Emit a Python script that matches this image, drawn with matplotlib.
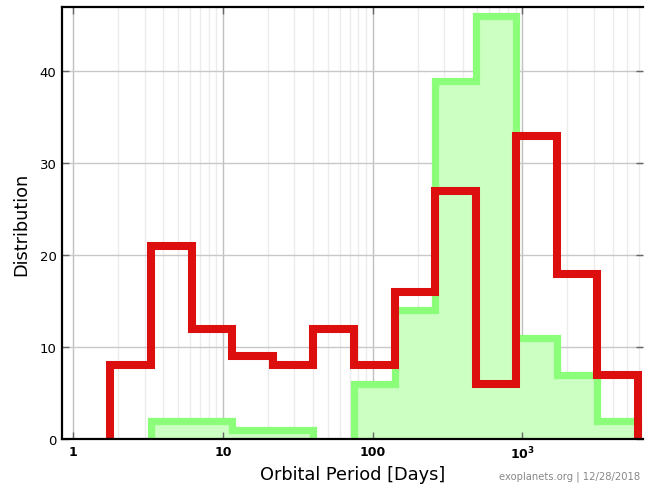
import numpy as np
import matplotlib
matplotlib.use("Agg")
import matplotlib.pyplot as plt
from matplotlib.ticker import FixedLocator, NullFormatter

# bin edges in days (log spaced)
bin_edges = [1.77, 3.30, 6.16, 11.5, 21.5, 40.1, 74.9, 140, 261, 487, 910, 1700, 3170, 5920]
red_counts = [8, 21, 12, 9, 8, 12, 8, 16, 27, 6, 33, 18, 7]
green_counts = [0, 2, 2, 1, 1, 0, 6, 14, 39, 46, 11, 7, 2]

xticks = [1, 10, 100, 1000]
xtick_labels = ["1", "10", "100", r"$\mathbf{10^3}$"]
yticks = [0, 10, 20, 30, 40]

red = "#dd0e0e"
green_line = "#8cff7a"
green_fill = "#ccffc2"


def step_runs(edges, counts):
    # outlines of each run of non-empty bins, down to zero at both ends
    runs = []
    xs, ys = [], []
    for i, c in enumerate(counts):
        if c > 0:
            if not xs:
                xs, ys = [edges[i]], [0]
            xs += [edges[i], edges[i + 1]]
            ys += [c, c]
        elif xs:
            xs.append(xs[-1])
            ys.append(0)
            runs.append((xs, ys))
            xs, ys = [], []
    if xs:
        xs.append(xs[-1])
        ys.append(0)
        runs.append((xs, ys))
    return runs


fig = plt.figure(figsize=(6.47, 4.89), dpi=100)
ax = fig.add_axes([62 / 647, 49 / 489, 581 / 647, 432 / 489])
ax.set_xscale("log")
ax.set_xlim(0.84, 6390)
ax.set_ylim(0, 47)

# grid
minor = [m * 10 ** d for d in range(0, 4) for m in range(2, 10)]
for v in minor:
    ax.axvline(v, color="#ececec", lw=1, zorder=0)
for v in xticks:
    ax.axvline(v, color="#c0c0c0", lw=1, zorder=0.5)
for v in yticks[1:]:
    ax.axhline(v, color="#c8c8c8", lw=1, zorder=0.5)

for gx, gy in step_runs(bin_edges, green_counts):
    ax.fill(gx, gy, color=green_fill, lw=0, zorder=1)
    ax.plot(gx, gy, color=green_line, lw=5.2, solid_joinstyle="miter", zorder=2)

for rx, ry in step_runs(bin_edges, red_counts):
    ax.plot(rx, ry, color=red, lw=5.8, solid_joinstyle="miter", zorder=3)

ax.xaxis.set_major_locator(FixedLocator(xticks))
ax.xaxis.set_minor_locator(FixedLocator([]))
ax.xaxis.set_minor_formatter(NullFormatter())
ax.set_xticks(xticks)
ax.set_xticklabels(xtick_labels, fontsize=9, fontweight="bold")
ax.set_yticks(yticks)
ax.set_yticklabels([str(v) for v in yticks], fontsize=9.5)
ax.tick_params(axis="both", direction="in", length=5, width=1, color="#666666",
               top=True, right=True, pad=4)
for s in ["left", "bottom", "top"]:
    ax.spines[s].set_linewidth(1.6)
    ax.spines[s].set_zorder(5)
ax.spines["right"].set_visible(False)

ax.set_xlabel("Orbital Period [Days]", fontsize=12.8, labelpad=3)
ax.set_ylabel("Distribution", fontsize=12.8, labelpad=7)

fig.text(0.99, 0.025, "exoplanets.org | 12/28/2018", ha="right", va="center",
         fontsize=7.2, color="#888888")

fig.savefig("out.png", dpi=100)
